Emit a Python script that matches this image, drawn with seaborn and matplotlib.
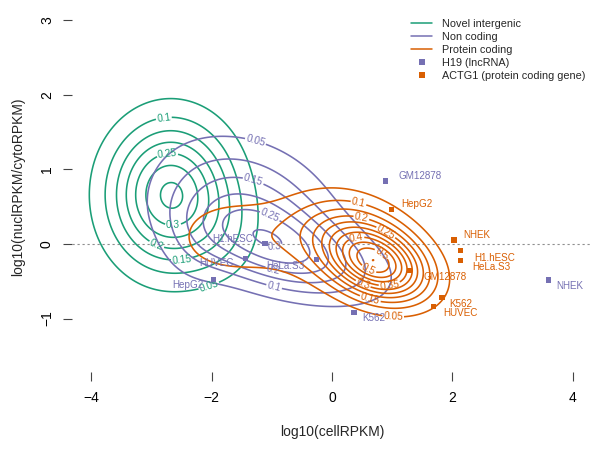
import numpy as np
import pandas as pd
import matplotlib
matplotlib.use("Agg")
import matplotlib.pyplot as plt
from matplotlib.lines import Line2D
import seaborn as sns

# ---------------- data ----------------
# Gaussian-mixture estimate of each class' 2D density (centres, spreads, weights)
green_mx = [-2.68, -1.75]
green_my = [0.66, 0.1]
green_sx = [0.68, 0.45]
green_sy = [0.65, 0.45]
green_rho = [0.0, 0.0]
green_w = [1.0, 0.05]
green_levels = [0.05, 0.1, 0.15, 0.2, 0.25, 0.3, 0.35]

purple_mx = [-0.75, -1.45, -2.3]
purple_my = [-0.1, 0.55, -0.1]
purple_sx = [1.0, 0.95, 0.45]
purple_sy = [0.42, 0.58, 0.4]
purple_rho = [-0.5, -0.25, 0.0]
purple_w = [0.48, 0.55, 0.04]
purple_levels = [0.05, 0.1, 0.15, 0.2, 0.25, 0.3]

orange_mx = [0.78, 0.5, -0.5, -1.8]
orange_my = [-0.3, 0.0, 0.1, 0.1]
orange_sx = [0.55, 0.62, 0.7, 0.6]
orange_sy = [0.32, 0.4, 0.4, 0.35]
orange_rho = [-0.3, -0.3, 0.0, 0.0]
orange_w = [0.4, 0.3, 0.13, 0.1]
orange_levels = [0.05, 0.1, 0.15, 0.2, 0.25, 0.3, 0.35, 0.4, 0.45, 0.5, 0.55]

cells_h19 = ["GM12878", "K562", "NHEK", "HeLa.S3", "H1.hESC", "HUVEC", "HepG2"]
h19_x = [0.885, 0.365, 3.593, -0.254, -1.113, -1.434, -1.972]
h19_y = [0.846, -0.917, -0.483, -0.21, 0.009, -0.192, -0.474]

cells_actg1 = ["HepG2", "NHEK", "H1.hESC", "HeLa.S3", "GM12878", "K562", "HUVEC"]
actg1_x = [0.992, 2.027, 2.138, 2.138, 1.284, 1.827, 1.683]
actg1_y = [0.466, 0.054, -0.09, -0.224, -0.358, -0.721, -0.842]

series_names = ["Novel intergenic", "Non coding", "Protein coding",
                "H19 (lncRNA)", "ACTG1 (protein coding gene)"]
x_ticks = [-4, -2, 0, 2, 4]
y_ticks = [-1, 0, 1, 2, 3]

# ---------------- style ----------------
GREEN, PURPLE, ORANGE = "#1B9E77", "#7570B3", "#D95F02"
sns.set_style("white")
plt.rcParams["font.family"] = ["Liberation Sans", "DejaVu Sans"]


def density(X, Y, mx, my, sx, sy, rho, w):
    Z = np.zeros_like(X)
    for a, b, s1, s2, r, wt in zip(mx, my, sx, sy, rho, w):
        dx = (X - a) / s1
        dy = (Y - b) / s2
        q = (dx ** 2 + dy ** 2 - 2 * r * dx * dy) / (1 - r ** 2)
        Z += wt * np.exp(-q / 2) / (2 * np.pi * s1 * s2 * np.sqrt(1 - r ** 2))
    return Z


gx = np.linspace(-4.6, 4.6, 461)
gy = np.linspace(-2.0, 3.5, 331)
X, Y = np.meshgrid(gx, gy)

fig = plt.figure(figsize=(6, 4.51), dpi=100)
ax = fig.add_axes([72 / 600, (451 - 372) / 451, 520 / 600, 370 / 451])
ax.set_xlim(-4.319, 4.319)
ax.set_ylim(-1.718, 3.248)

ax.axhline(0, color="#8f8f8f", lw=0.8, ls=(0, (2, 2.5)), zorder=1)

lab_fs = 7.3
groups = [
    (density(X, Y, green_mx, green_my, green_sx, green_sy, green_rho, green_w),
     green_levels, GREEN,
     [(-2.05, -0.55), (-2.8, 1.73), (-2.5, -0.19), (-2.95, -0.08), (-2.73, 1.17), (-2.64, 0.25)]),
    (density(X, Y, purple_mx, purple_my, purple_sx, purple_sy, purple_rho, purple_w),
     purple_levels, PURPLE,
     [(-1.25, 1.44), (-0.98, -0.63), (-1.33, 0.79), (-0.98, -0.35), (-1.03, 0.38), (-0.95, -0.07)]),
    (density(X, Y, orange_mx, orange_my, orange_sx, orange_sy, orange_rho, orange_w),
     orange_levels, ORANGE,
     [(1.02, -0.93), (0.44, 0.55), (0.63, -0.75), (0.49, 0.36), (0.91, 0.18), (0.96, -0.58),
      (0.52, -0.53), (0.41, 0.05), (0.85, -0.10), (0.63, -0.31)]),
]
for Z, lev, col, manual in groups:
    cs = ax.contour(X, Y, Z, levels=lev, colors=col, linewidths=1.15, zorder=2)
    ax.clabel(cs, inline=True, inline_spacing=1, fontsize=lab_fs, fmt="%g",
              manual=manual, colors=col)

pts = pd.DataFrame({
    "x": h19_x + actg1_x,
    "y": h19_y + actg1_y,
    "gene": [series_names[3]] * len(h19_x) + [series_names[4]] * len(actg1_x),
    "cell": cells_h19 + cells_actg1,
})
sns.scatterplot(data=pts, x="x", y="y", hue="gene",
                palette={series_names[3]: PURPLE, series_names[4]: ORANGE},
                marker="s", s=15, linewidth=0, legend=False, ax=ax, zorder=4)

# label offsets (points) for each cell-line label
h19_off = [(9.4, 3.6, "left"), (5.8, -4.3, "left"), (5.8, -4.3, "left"), (-8.6, -4.3, "right"),
           (-8.6, 2.9, "right"), (-8.6, -3.6, "right"), (-7.2, -4.3, "right")]
actg1_off = [(7.2, 3.6, "left"), (6.5, 3.6, "left"), (9.4, -5.0, "left"), (8.6, -4.3, "left"),
             (10.0, -4.3, "left"), (5.0, -4.3, "left"), (7.2, -4.3, "left")]
for cells, xs, ys, offs, col in [(cells_h19, h19_x, h19_y, h19_off, PURPLE),
                                  (cells_actg1, actg1_x, actg1_y, actg1_off, ORANGE)]:
    for c, x, y, (dx, dy, ha) in zip(cells, xs, ys, offs):
        ax.annotate(c, (x, y), xytext=(dx, dy), textcoords="offset points",
                    ha=ha, va="center", fontsize=7.1, color=col, zorder=5)

# axes in R style: no box, outward ticks
for s in ax.spines.values():
    s.set_visible(False)
ax.set_xticks(x_ticks)
ax.set_yticks(y_ticks)
ax.tick_params(axis="both", direction="out", length=6.5, width=0.8, color="#444444",
               labelsize=10, labelcolor="black")
ax.tick_params(axis="x", pad=7.5, bottom=True)
ax.tick_params(axis="y", pad=6.5, left=True)
plt.setp(ax.get_yticklabels(), rotation=90, va="center")

ax.set_xlabel("log10(cellRPKM)", fontsize=10)
ax.set_ylabel("log10(nuclRPKM/cytoRPKM)", fontsize=10)
ax.xaxis.set_label_coords(0.5, -0.162)
ax.xaxis.label.set_va("center")
ax.yaxis.set_label_coords(-0.104, 0.5)
ax.yaxis.label.set_va("center")

handles = [Line2D([], [], color=GREEN, lw=1.1),
           Line2D([], [], color=PURPLE, lw=1.1),
           Line2D([], [], color=ORANGE, lw=1.1),
           Line2D([], [], color=PURPLE, marker="s", ls="", markersize=3.8, markeredgewidth=0),
           Line2D([], [], color=ORANGE, marker="s", ls="", markersize=3.8, markeredgewidth=0)]
ax.legend(handles, series_names, loc="upper left", bbox_to_anchor=(411 / 600, (451 - 19) / 451),
          bbox_transform=fig.transFigure, frameon=False, fontsize=7.8, borderpad=0,
          borderaxespad=0, handlelength=1.95, handletextpad=0.9, labelspacing=0.27)

fig.savefig("out.png", dpi=100)
